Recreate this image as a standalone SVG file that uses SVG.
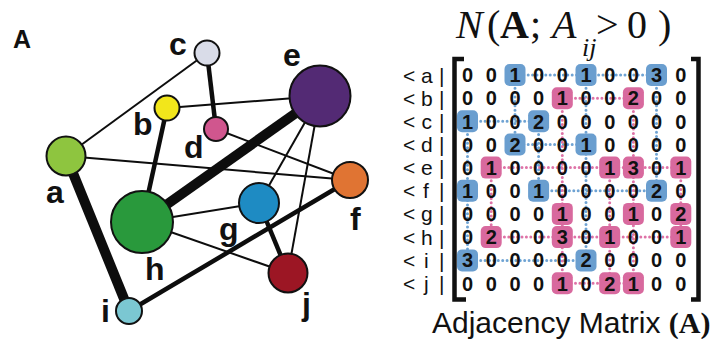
<svg xmlns="http://www.w3.org/2000/svg" width="720" height="339" viewBox="0 0 720 339">
<style>
.edge{stroke:#0d0d0d;stroke-linecap:butt;fill:none}
.w1{stroke-width:2}
.w2{stroke-width:4.5}
.w3{stroke-width:10}
.node{stroke:#111;stroke-width:2}
.lbl{font-family:"Liberation Sans",Arial,sans-serif;font-weight:bold;font-size:32px;fill:#111}
.num{font-family:"Liberation Sans",Arial,sans-serif;font-weight:bold;font-size:20px;fill:#111;text-anchor:middle}
.rl{font-family:"Liberation Sans",Arial,sans-serif;font-size:21px;fill:#111}
.bdot{stroke:#6fa3d3;stroke-width:3;stroke-linecap:round;stroke-dasharray:0 4.4;fill:none}
.pdot{stroke:#de73a7;stroke-width:3;stroke-linecap:round;stroke-dasharray:0 4.4;fill:none}
.bbox{fill:#6a9ecf}
.pbox{fill:#d8699e}
.brk{fill:none;stroke:#111;stroke-width:4.5}
</style>
<rect width="720" height="339" fill="#fff"/>
<text x="13" y="48" font-family="Liberation Sans,Arial,sans-serif" font-weight="bold" font-size="25" fill="#111">A</text>
<g id="connectors">
<line class="edge w1" x1="207" y1="53" x2="66" y2="156"/>
<line class="edge w2" x1="207" y1="53" x2="216" y2="129"/>
<line class="edge w1" x1="167" y1="108" x2="320" y2="96"/>
<line class="edge w2" x1="167" y1="108" x2="142" y2="222"/>
<line class="edge w1" x1="216" y1="129" x2="350" y2="180"/>
<line class="edge w1" x1="66" y1="156" x2="350" y2="180"/>
<line class="edge w3" x1="320" y1="96" x2="142" y2="222"/>
<line class="edge w1" x1="320" y1="96" x2="259" y2="203"/>
<line class="edge w1" x1="320" y1="96" x2="288" y2="273"/>
<line class="edge w3" x1="66" y1="156" x2="129" y2="311"/>
<line class="edge w2" x1="129" y1="311" x2="350" y2="180"/>
<line class="edge w1" x1="142" y1="222" x2="259" y2="203"/>
<line class="edge w1" x1="142" y1="222" x2="288" y2="273"/>
<line class="edge w2" x1="259" y1="203" x2="288" y2="273"/>
</g>
<g id="node-a"><circle class="node" cx="66" cy="156" r="19.5" fill="#8ec53f"/><text class="lbl" x="46" y="203">a</text></g>
<g id="node-b"><circle class="node" cx="167" cy="108" r="12.5" fill="#f2e61b"/><text class="lbl" x="133" y="135">b</text></g>
<g id="node-c"><circle class="node" cx="207" cy="53" r="12.5" fill="#d9dce8"/><text class="lbl" x="169" y="55">c</text></g>
<g id="node-d"><circle class="node" cx="216" cy="129" r="12" fill="#d0568e"/><text class="lbl" x="184" y="158">d</text></g>
<g id="node-e"><circle class="node" cx="320" cy="96" r="30.5" fill="#532a74"/><text class="lbl" x="283" y="66">e</text></g>
<g id="node-f"><circle class="node" cx="350" cy="180" r="18" fill="#e07433"/><text class="lbl" x="350" y="230">f</text></g>
<g id="node-g"><circle class="node" cx="259" cy="203" r="20" fill="#1e8bc3"/><text class="lbl" x="219" y="240">g</text></g>
<g id="node-h"><circle class="node" cx="142" cy="222" r="31" fill="#29993c"/><text class="lbl" x="145" y="280">h</text></g>
<g id="node-i"><circle class="node" cx="129" cy="311" r="13" fill="#7bc7d2"/><text class="lbl" x="101" y="322">i</text></g>
<g id="node-j"><circle class="node" cx="288" cy="273" r="19.5" fill="#9c1624"/><text class="lbl" x="302" y="315">j</text></g>

<g id="matrix-title">
<text font-family="Liberation Serif,Times New Roman,serif" font-size="40" fill="#111" y="38"><tspan x="456" font-style="italic">N</tspan><tspan x="487">(</tspan><tspan x="500" font-weight="bold">A</tspan><tspan x="530">;</tspan><tspan x="552" font-style="italic">A</tspan><tspan x="582" y="56" font-style="italic" font-size="26">ij</tspan><tspan x="596" y="38">&gt;</tspan><tspan x="627">0</tspan><tspan x="658">)</tspan></text>
</g>

<g id="matrix-brackets">
<path class="brk" d="M464,59 H454.5 V299.5 H466"/>
<path class="brk" d="M691,59 H698.5 V299.5 H691"/>
</g>

<g id="blue-paths">
<line class="bdot" x1="515" y1="75" x2="656.5" y2="75"/>
<line class="bdot" x1="467.5" y1="121.3" x2="538.6" y2="121.3"/>
<line class="bdot" x1="515" y1="144.5" x2="586" y2="144.5"/>
<line class="bdot" x1="538.6" y1="190.8" x2="656.5" y2="190.8"/>
<line class="bdot" x1="467.5" y1="260.4" x2="586" y2="260.4"/>
<line class="bdot" x1="467.5" y1="121.3" x2="467.5" y2="260.4"/>
<line class="bdot" x1="515" y1="75" x2="515" y2="144.5"/>
<line class="bdot" x1="538.6" y1="121.3" x2="538.6" y2="190.8"/>
<line class="bdot" x1="586" y1="75" x2="586" y2="260.4"/>
<line class="bdot" x1="656.5" y1="75" x2="656.5" y2="190.8"/>
</g>
<g id="pink-paths">
<line class="pdot" x1="562.3" y1="98.2" x2="633.4" y2="98.2"/>
<line class="pdot" x1="491.2" y1="167.6" x2="680.8" y2="167.6"/>
<line class="pdot" x1="491.2" y1="237.1" x2="680.8" y2="237.1"/>
<line class="pdot" x1="562.3" y1="283.3" x2="633.4" y2="283.3"/>
<line class="pdot" x1="491.2" y1="167.6" x2="491.2" y2="237.1"/>
<line class="pdot" x1="562.3" y1="98.2" x2="562.3" y2="283.3"/>
<line class="pdot" x1="609.7" y1="167.6" x2="609.7" y2="283.3"/>
<line class="pdot" x1="633.4" y1="98.2" x2="633.4" y2="283.3"/>
<line class="pdot" x1="680.8" y1="167.6" x2="680.8" y2="237.1"/>
</g>
<g id="boxes">
<rect class="bbox" x="504.5" y="64" width="21" height="22" rx="5"/>
<rect class="bbox" x="575.5" y="64" width="21" height="22" rx="5"/>
<rect class="bbox" x="646" y="64" width="21" height="22" rx="5"/>
<rect class="bbox" x="457" y="110.3" width="21" height="22" rx="5"/>
<rect class="bbox" x="528.1" y="110.3" width="21" height="22" rx="5"/>
<rect class="bbox" x="504.5" y="133.5" width="21" height="22" rx="5"/>
<rect class="bbox" x="575.5" y="133.5" width="21" height="22" rx="5"/>
<rect class="bbox" x="457" y="179.8" width="21" height="22" rx="5"/>
<rect class="bbox" x="528.1" y="179.8" width="21" height="22" rx="5"/>
<rect class="bbox" x="646" y="179.8" width="21" height="22" rx="5"/>
<rect class="bbox" x="457" y="249.4" width="21" height="22" rx="5"/>
<rect class="bbox" x="575.5" y="249.4" width="21" height="22" rx="5"/>
<rect class="pbox" x="551.8" y="87.2" width="21" height="22" rx="5"/>
<rect class="pbox" x="622.9" y="87.2" width="21" height="22" rx="5"/>
<rect class="pbox" x="480.7" y="156.6" width="21" height="22" rx="5"/>
<rect class="pbox" x="599.2" y="156.6" width="21" height="22" rx="5"/>
<rect class="pbox" x="622.9" y="156.6" width="21" height="22" rx="5"/>
<rect class="pbox" x="670.3" y="156.6" width="21" height="22" rx="5"/>
<rect class="pbox" x="551.8" y="202.9" width="21" height="22" rx="5"/>
<rect class="pbox" x="622.9" y="202.9" width="21" height="22" rx="5"/>
<rect class="pbox" x="670.3" y="202.9" width="21" height="22" rx="5"/>
<rect class="pbox" x="480.7" y="226.1" width="21" height="22" rx="5"/>
<rect class="pbox" x="551.8" y="226.1" width="21" height="22" rx="5"/>
<rect class="pbox" x="599.2" y="226.1" width="21" height="22" rx="5"/>
<rect class="pbox" x="670.3" y="226.1" width="21" height="22" rx="5"/>
<rect class="pbox" x="551.8" y="272.3" width="21" height="22" rx="5"/>
<rect class="pbox" x="599.2" y="272.3" width="21" height="22" rx="5"/>
<rect class="pbox" x="622.9" y="272.3" width="21" height="22" rx="5"/>
</g>
<g id="row-labels" class="rl">
<text y="82.5"><tspan x="403">&lt;</tspan><tspan x="421">a</tspan><tspan x="439">|</tspan></text>
<text y="105.7"><tspan x="403">&lt;</tspan><tspan x="421">b</tspan><tspan x="439">|</tspan></text>
<text y="128.8"><tspan x="403">&lt;</tspan><tspan x="421.5">c</tspan><tspan x="439">|</tspan></text>
<text y="152"><tspan x="403">&lt;</tspan><tspan x="421">d</tspan><tspan x="439">|</tspan></text>
<text y="175.1"><tspan x="403">&lt;</tspan><tspan x="421">e</tspan><tspan x="439">|</tspan></text>
<text y="198.3"><tspan x="403">&lt;</tspan><tspan x="423">f</tspan><tspan x="439">|</tspan></text>
<text y="221.4"><tspan x="403">&lt;</tspan><tspan x="421">g</tspan><tspan x="439">|</tspan></text>
<text y="244.6"><tspan x="403">&lt;</tspan><tspan x="421">h</tspan><tspan x="439">|</tspan></text>
<text y="267.7"><tspan x="403">&lt;</tspan><tspan x="424">i</tspan><tspan x="439">|</tspan></text>
<text y="290.9"><tspan x="403">&lt;</tspan><tspan x="424">j</tspan><tspan x="439">|</tspan></text>
</g>
<g id="matrix-values" class="num">
<text y="82.2"><tspan x="467.5">0</tspan><tspan x="491.2">0</tspan><tspan x="515">1</tspan><tspan x="538.6">0</tspan><tspan x="562.3">0</tspan><tspan x="586">1</tspan><tspan x="609.7">0</tspan><tspan x="633.4">0</tspan><tspan x="656.5">3</tspan><tspan x="680.8">0</tspan></text>
<text y="105.4"><tspan x="467.5">0</tspan><tspan x="491.2">0</tspan><tspan x="515">0</tspan><tspan x="538.6">0</tspan><tspan x="562.3">1</tspan><tspan x="586">0</tspan><tspan x="609.7">0</tspan><tspan x="633.4">2</tspan><tspan x="656.5">0</tspan><tspan x="680.8">0</tspan></text>
<text y="128.5"><tspan x="467.5">1</tspan><tspan x="491.2">0</tspan><tspan x="515">0</tspan><tspan x="538.6">2</tspan><tspan x="562.3">0</tspan><tspan x="586">0</tspan><tspan x="609.7">0</tspan><tspan x="633.4">0</tspan><tspan x="656.5">0</tspan><tspan x="680.8">0</tspan></text>
<text y="151.7"><tspan x="467.5">0</tspan><tspan x="491.2">0</tspan><tspan x="515">2</tspan><tspan x="538.6">0</tspan><tspan x="562.3">0</tspan><tspan x="586">1</tspan><tspan x="609.7">0</tspan><tspan x="633.4">0</tspan><tspan x="656.5">0</tspan><tspan x="680.8">0</tspan></text>
<text y="174.8"><tspan x="467.5">0</tspan><tspan x="491.2">1</tspan><tspan x="515">0</tspan><tspan x="538.6">0</tspan><tspan x="562.3">0</tspan><tspan x="586">0</tspan><tspan x="609.7">1</tspan><tspan x="633.4">3</tspan><tspan x="656.5">0</tspan><tspan x="680.8">1</tspan></text>
<text y="198"><tspan x="467.5">1</tspan><tspan x="491.2">0</tspan><tspan x="515">0</tspan><tspan x="538.6">1</tspan><tspan x="562.3">0</tspan><tspan x="586">0</tspan><tspan x="609.7">0</tspan><tspan x="633.4">0</tspan><tspan x="656.5">2</tspan><tspan x="680.8">0</tspan></text>
<text y="221.1"><tspan x="467.5">0</tspan><tspan x="491.2">0</tspan><tspan x="515">0</tspan><tspan x="538.6">0</tspan><tspan x="562.3">1</tspan><tspan x="586">0</tspan><tspan x="609.7">0</tspan><tspan x="633.4">1</tspan><tspan x="656.5">0</tspan><tspan x="680.8">2</tspan></text>
<text y="244.3"><tspan x="467.5">0</tspan><tspan x="491.2">2</tspan><tspan x="515">0</tspan><tspan x="538.6">0</tspan><tspan x="562.3">3</tspan><tspan x="586">0</tspan><tspan x="609.7">1</tspan><tspan x="633.4">0</tspan><tspan x="656.5">0</tspan><tspan x="680.8">1</tspan></text>
<text y="267.4"><tspan x="467.5">3</tspan><tspan x="491.2">0</tspan><tspan x="515">0</tspan><tspan x="538.6">0</tspan><tspan x="562.3">0</tspan><tspan x="586">2</tspan><tspan x="609.7">0</tspan><tspan x="633.4">0</tspan><tspan x="656.5">0</tspan><tspan x="680.8">0</tspan></text>
<text y="290.6"><tspan x="467.5">0</tspan><tspan x="491.2">0</tspan><tspan x="515">0</tspan><tspan x="538.6">0</tspan><tspan x="562.3">1</tspan><tspan x="586">0</tspan><tspan x="609.7">2</tspan><tspan x="633.4">1</tspan><tspan x="656.5">0</tspan><tspan x="680.8">0</tspan></text>
</g>
<g id="matrix-caption">
<text x="432" y="333" font-family="Liberation Sans,Arial,sans-serif" font-size="30" fill="#111">Adjacency Matrix <tspan font-family="Liberation Serif,Times New Roman,serif" font-weight="bold">(A)</tspan></text>
</g>
</svg>
